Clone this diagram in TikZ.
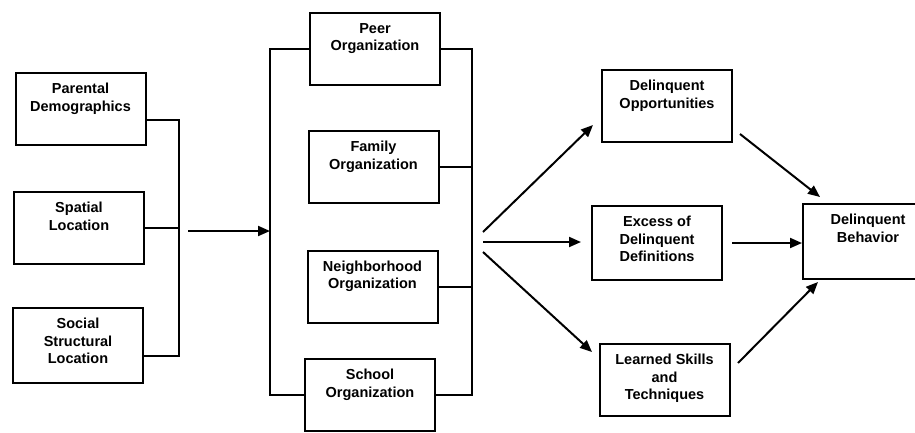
\documentclass[tikz,border=0pt]{standalone}
\usepackage{fontspec}
\setmainfont{Liberation Sans}
\usetikzlibrary{arrows.meta}

\tikzset{
  box/.style={draw, line width=2pt, minimum width=130pt, minimum height=72pt,
    label={[boxtext]north:#1}},
  boxtext/.style={anchor=north, yshift=-11pt, inner sep=0pt, align=center,
    font=\bfseries\fontsize{14.5}{17.5}\selectfont},
  link/.style={line width=2pt},
  arr/.style={line width=2pt, -{Triangle[length=12pt,width=10pt]}}
}

\begin{document}
\begin{tikzpicture}[
  x=1pt, y=-1pt
]
\useasboundingbox (0,0) rectangle (915,432);

\node [box={Parental\\Demographics}] (par) at (80.5,109) {};
\node [box={Spatial\\Location}] (spa) at (79,228) {};
\node [box={Social\\Structural\\Location}, minimum height=75pt] (soc) at (78,345.5) {};

\node [box={Peer\\Organization}] (peer) at (375,49) {};
\node [box={Family\\Organization}] (fam) at (373.5,167) {};
\node [box={Neighborhood\\Organization}] (nbh) at (372.5,286.5) {};
\node [box={School\\Organization}] (sch) at (370,395) {};

\node [box={Delinquent\\Opportunities}] (opp) at (667,106) {};
\node [box={Excess of\\Delinquent\\Definitions}, minimum height=74pt] (exc) at (657,243) {};
\node [box={Learned Skills\\and\\Techniques}] (lrn) at (664.5,380) {};
\node [box={Delinquent\\Behavior}, minimum height=75pt] (beh) at (868,241.5) {};

\coordinate (lj1) at (179,120);
\coordinate (lj2) at (179,356);
\coordinate (lout) at (188,231);
\coordinate (ml) at (270,0);
\coordinate (mr) at (472,0);

\draw [link] (lj1 -| par.east) -- (lj1) -- (lj2) -- (lj2 -| soc.east);
\draw [link] (spa.east) -- (spa.east -| lj1);
\draw [arr] (lout) -- (lout -| ml);

\draw [link] (peer.west) -- (peer.west -| ml) -- (sch.west -| ml) -- (sch.west);
\draw [link] (peer.east) -- (peer.east -| mr) -- (sch.east -| mr) -- (sch.east);
\draw [link] (fam.east) -- (fam.east -| mr);
\draw [link] (nbh.east) -- (nbh.east -| mr);

\coordinate (f1) at (483,232);
\coordinate (f2) at (483,242);
\coordinate (f3) at (483,252);
\coordinate (e1) at (593,125);
\coordinate (e3) at (592,352);
\draw [arr] (f1) -- (e1);
\draw [arr, shorten >=10pt] (f2) -- (f2 -| exc.west);
\draw [arr] (f3) -- (e3);

\coordinate (g1) at (740,134);
\coordinate (h1) at (820,197);
\coordinate (g3) at (738,363);
\coordinate (h3) at (818,282);
\draw [arr] (g1) -- (h1);
\draw [arr, shorten <=9pt] (exc.east) -- (exc.east -| beh.west);
\draw [arr] (g3) -- (h3);
\end{tikzpicture}
\end{document}
